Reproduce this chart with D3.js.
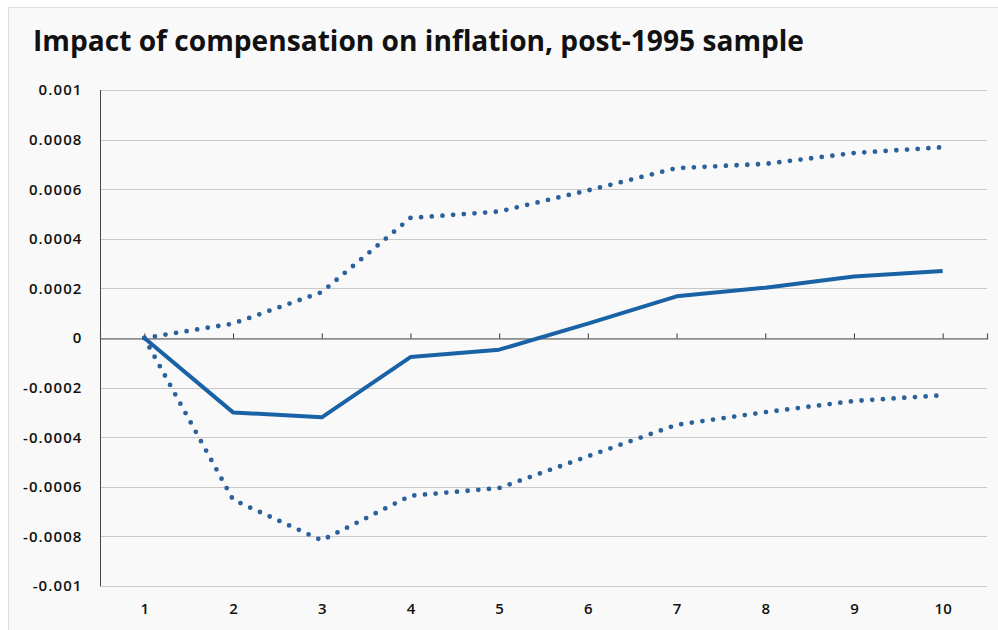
<!DOCTYPE html>
<html>
<head>
<meta charset="utf-8">
<script src="https://cdn.jsdelivr.net/npm/d3@7"></script>
<style>
  body { margin: 0; background: #fff; }
  svg { display: block; }
</style>
</head>
<body>
<div class="canva"></div>
<script>
// chart values
const periods = [1, 2, 3, 4, 5, 6, 7, 8, 9, 10];
const impact = [0, -0.00030, -0.00032, -0.000077, -0.000047, 0.000058, 0.000168, 0.000203, 0.000248, 0.00027];
const upperBand = [0, 0.000058, 0.000185, 0.000484, 0.00051, 0.000595, 0.000685, 0.000702, 0.000746, 0.000769];
const lowerBand = [0, -0.000652, -0.000816, -0.000636, -0.000605, -0.000477, -0.00035, -0.000299, -0.000254, -0.000231];
const yTicks = [0.001, 0.0008, 0.0006, 0.0004, 0.0002, 0, -0.0002, -0.0004, -0.0006, -0.0008, -0.001];
const title = "Impact of compensation on inflation, post-1995 sample";

const width = 998, height = 630;
const margin = {top: 90, right: 11, bottom: 44, left: 100};

const svg = d3.select(".canva").append("svg")
  .attr("width", width)
  .attr("height", height);

// light panel behind everything
svg.append("rect")
  .attr("x", 8.5).attr("y", 7.5)
  .attr("width", width).attr("height", height)
  .attr("fill", "#f9f9f9")
  .attr("stroke", "#dedede");

const titleText = svg.append("text")
  .attr("x", 33).attr("y", 51)
  .attr("font-family", "'Open Sans', sans-serif")
  .attr("font-weight", 700)
  .attr("font-size", 29)
  .attr("fill", "#111")
  .text(title);
titleText.attr("textLength", 771).attr("lengthAdjust", "spacingAndGlyphs");

const x = d3.scalePoint()
  .domain(periods)
  .range([margin.left, width - margin.right])
  .padding(0.5);

const y = d3.scaleLinear()
  .domain([-0.001, 0.001])
  .range([height - margin.bottom, margin.top]);

// gridlines
svg.append("g")
  .selectAll("line")
  .data(yTicks)
  .join("line")
  .attr("x1", margin.left)
  .attr("x2", width - margin.right)
  .attr("y1", d => Math.round(y(d)) + 0.5)
  .attr("y2", d => Math.round(y(d)) + 0.5)
  .attr("stroke", "#c9c9c9")
  .attr("stroke-width", 1.2);

// y axis
const yAxis = svg.append("g")
  .attr("transform", `translate(${margin.left + 0.5},0)`)
  .call(d3.axisLeft(y).tickValues(yTicks).tickSize(0).tickPadding(18)
    .tickFormat(d => d === 0 ? "0" : String(+d.toFixed(4))));
yAxis.select(".domain")
  .attr("stroke", "#444")
  .attr("d", `M0,${y(0.001)}V${y(-0.001)}`);
yAxis.selectAll("text")
  .attr("font-family", "'Open Sans', sans-serif")
  .attr("font-weight", 600)
  .attr("font-size", 15)
  .attr("letter-spacing", 1.1)
  .attr("fill", "#111");

// zero axis with upward ticks
const zeroAxis = svg.append("g")
  .attr("transform", `translate(0,${Math.round(y(0)) + 0.5})`)
  .call(d3.axisTop(x).tickSize(5).tickSizeOuter(5).tickFormat(""));
zeroAxis.select(".domain").attr("stroke", "#555").attr("stroke-width", 1.2);
zeroAxis.selectAll(".tick line").attr("stroke", "#333");

// category labels along the bottom
const xAxis = svg.append("g")
  .attr("transform", `translate(0,${y(-0.001)})`)
  .call(d3.axisBottom(x).tickSize(0).tickPadding(17));
xAxis.select(".domain").remove();
xAxis.selectAll("text")
  .attr("font-family", "'Open Sans', sans-serif")
  .attr("font-weight", 600)
  .attr("font-size", 15)
  .attr("fill", "#111");

const line = d3.line()
  .x((d, i) => x(periods[i]))
  .y(d => y(d));

// confidence bands, dotted
[upperBand, lowerBand].forEach(band => {
  svg.append("path")
    .datum(band)
    .attr("d", line)
    .attr("fill", "none")
    .attr("stroke", "#2a619b")
    .attr("stroke-width", 4.8)
    .attr("stroke-linecap", "round")
    .attr("stroke-dasharray", "0 10.7");
});

// point estimate
svg.append("path")
  .datum(impact)
  .attr("d", line)
  .attr("fill", "none")
  .attr("stroke", "#1a62a6")
  .attr("stroke-width", 4)
  .attr("stroke-linejoin", "round");
</script>
</body>
</html>
